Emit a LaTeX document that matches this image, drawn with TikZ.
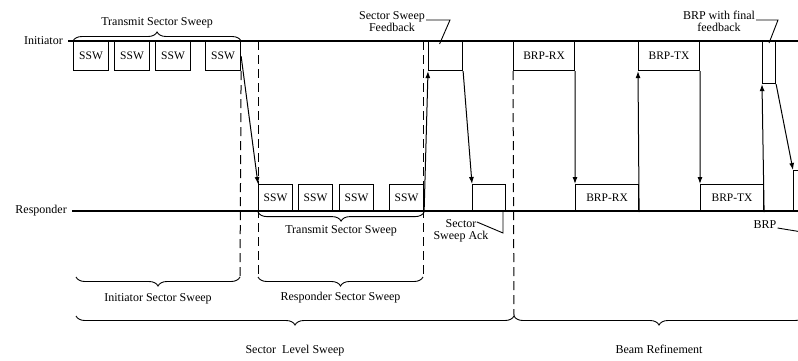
\documentclass[tikz,border=0pt]{standalone}
\usepackage{fontspec}
\setmainfont{Liberation Serif}
\usetikzlibrary{arrows.meta, positioning, decorations.pathreplacing}
\tikzset{
  frame/.style  = {draw, line width=1.1pt, anchor=north west, inner sep=0pt,
                   font=\fontsize{11.5}{13}\selectfont},
  sswbox/.style = {frame, minimum width=35pt, minimum height=29pt},
  rswbox/.style = {frame, minimum width=34pt, minimum height=27pt},
  brpbox/.style = {frame, minimum width=61pt},
  life/.style   = {line width=1.1pt},
  sep/.style    = {line width=1pt, dash pattern=on 9pt off 5pt},
  arr/.style    = {-{Latex[length=7pt,width=5pt]}, line width=1pt},
  lead/.style   = {line width=0.9pt},
  brc/.style    = {decorate, decoration={brace, amplitude=9pt}, line width=0.9pt},
  brcd/.style   = {decorate, decoration={brace, amplitude=9pt, mirror}, line width=0.9pt},
  lbl/.style    = {font=\fontsize{12}{14}\selectfont, align=center, inner sep=1pt}
}

\begin{document}
\begin{tikzpicture}[x=1pt, y=-1pt]
  \useasboundingbox (0,0) rectangle (798,360);

  % lifelines
  \coordinate (edge) at (798,0);
  \node[lbl, anchor=east, inner xsep=5pt] (ini) at (68,41) {Initiator};
  \node[lbl, anchor=east, inner xsep=5pt] (rsp) at (72,211) {Responder};
  \draw[life] (ini.east) -- (ini.east -| edge);
  \draw[life] (rsp.east) -- (rsp.east -| edge);

  % initiator transmit sector sweep
  \node[sswbox] (i1) at (73,41)  {SSW};
  \node[sswbox] (i2) at (114,41) {SSW};
  \node[sswbox] (i3) at (155,41) {SSW};
  \node[sswbox] (i4) at (205,41) {SSW};
  \draw[brc] (i1.north west) -- (i4.north east)
    node[midway, above=12pt, lbl] (itss) {Transmit Sector Sweep};

  % responder transmit sector sweep
  \node[rswbox] (r1) at (258,184) {SSW};
  \node[rswbox] (r2) at (298,184) {SSW};
  \node[rswbox] (r3) at (339,184) {SSW};
  \node[rswbox] (r4) at (389,184) {SSW};
  \draw[brcd] (r1.south west) -- (r4.south east)
    node[midway, below=12pt, lbl] (rtss) {Transmit Sector Sweep};

  % feedback and ack
  \node[frame, minimum width=34pt, minimum height=29pt] (fb) at (428,41) {};
  \node[frame, minimum width=33pt, minimum height=27pt] (ack) at (472,184) {};
  \node[lbl] (fblbl) at (392,22) {Sector Sweep\\[-2pt]Feedback};
  \node[lbl] (acklbl) at (461,231) {Sector\\[-2pt]Sweep Ack};
  \coordinate (fbk) at (450,20);
  \coordinate (ackpt) at (477,222);
  \coordinate (ackk) at (503,233);
  \draw[lead] (fblbl.east |- fbk) -- (fbk) -- ([xshift=-6pt,yshift=-3pt]fb.north);
  \draw[lead] (ackpt) -- (ackk) -- (ackk |- ack.south);

  % beam refinement
  \node[brpbox, minimum height=29pt] (irx) at (513,41)  {BRP-RX};
  \node[brpbox, minimum height=29pt] (itx) at (638,41)  {BRP-TX};
  \node[brpbox, minimum height=27pt, minimum width=63pt] (rrx) at (575,184) {BRP-RX};
  \node[brpbox, minimum height=27pt, minimum width=63pt] (rtx) at (700,184) {BRP-TX};
  \node[frame, minimum width=13pt, minimum height=42pt] (ffb) at (762,41) {};
  \node[frame, minimum width=25pt, minimum height=41pt] (fbrp) at (793,170) {};
  \node[lbl] (ffblbl) at (719,21) {BRP with final\\[-2pt]feedback};
  \node[lbl] (brplbl) at (765,225) {BRP};
  \coordinate (ffbk) at (778,20);
  \coordinate (brpend) at (802,232);
  \draw[lead] (ffblbl.east |- ffbk) -- (ffbk) -- ([yshift=-2pt]ffb.north);
  \draw[lead] ([yshift=-3pt]brplbl.east) -- (brpend);

  % frame exchange
  \draw[arr] (i4.east) -- (r1.north west);
  \draw[arr] (r4.south east) -- (fb.south west);
  \draw[arr] (fb.south east) -- (ack.north west);
  \draw[arr] (irx.south east) -- (rrx.north west);
  \draw[arr] (rrx.south east) -- (itx.south west);
  \draw[arr] (itx.south east) -- (rtx.north west);
  \draw[arr] (rtx.south east) -- (ffb.south west);
  \draw[arr] (ffb.south east) -- (fbrp.north west);

  % phase separators
  \coordinate (sa) at (240,277);
  \coordinate (sb) at (258,277);
  \coordinate (sc) at (423,277);
  \coordinate (sd) at (514,316);
  \coordinate (ia) at (76,277);
  \coordinate (la) at (76,316);
  \coordinate (lz) at (804,316);
  \draw[sep] (i4.south east) -- (sa);
  \draw[sep] (sb |- ini.east) -- (sb);
  \draw[sep] (sc |- ini.east) -- (sc);
  \draw[sep] (irx.south west) -- (sd);

  % phase braces
  \draw[brcd] (ia) -- (sa)
    node[midway, below=15pt, lbl] (iss) {Initiator Sector Sweep};
  \draw[brcd] (sb) -- (sc)
    node[midway, below=14pt, lbl] (rss) {Responder Sector Sweep};
  \draw[brcd] (la) -- (sd)
    node[midway, below=28pt, lbl] (sls) {Sector~ Level Sweep};
  \draw[brcd] (sd) -- (lz)
    node[midway, below=28pt, lbl] (bref) {Beam Refinement};
\end{tikzpicture}
\end{document}
